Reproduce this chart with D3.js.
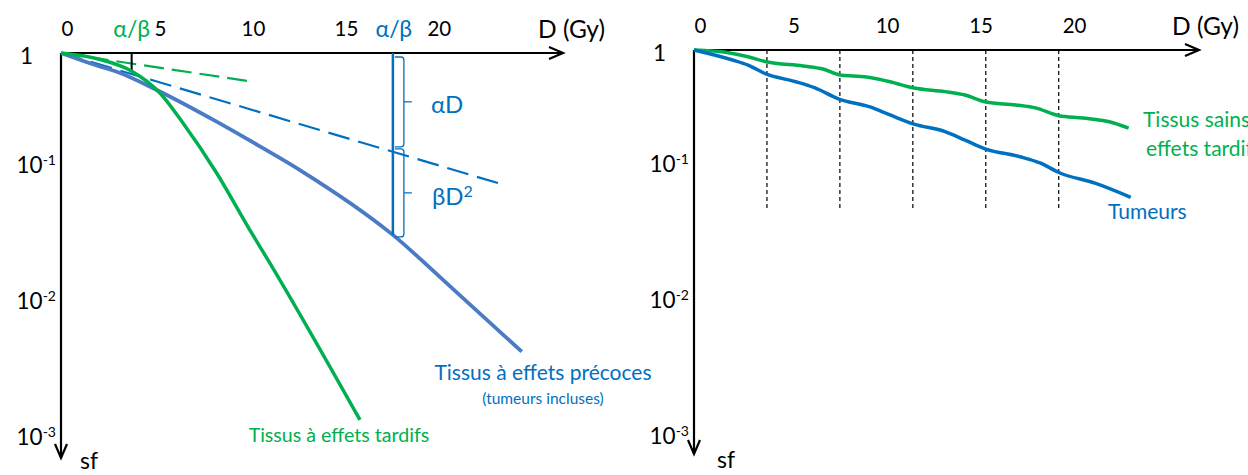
<!DOCTYPE html>
<html><head><meta charset="utf-8">
<script src="https://cdn.jsdelivr.net/npm/d3@7/dist/d3.min.js"></script>
<style>
html,body{margin:0;padding:0;background:#fff;overflow:hidden;}
svg{display:block;font-family:Lato,"Open Sans",sans-serif;}
</style></head><body>
<svg id="c" width="1248" height="475"></svg>
<script>
// ---------- data ----------
const doseTicks = [0, 5, 10, 15, 20];
const sfTicks = [1, 0.1, 0.01, 0.001];
const sfExponents = ["", "-1", "-2", "-3"];

// left panel: LQ curves
const earlyDose = [0, 2, 3.0, 5.15, 8.37, 10.1, 12.85, 17.85, 20.9, 24.78];
const earlySF   = [1, 0.762, 0.676, 0.461, 0.2375, 0.162, 0.0888, 0.0296, 0.0125, 0.0041];
const lateDose  = [0, 2, 3.76, 5.32, 6.56, 8.37, 10.16, 11.13, 16.08];
const lateSF    = [1, 0.882, 0.69, 0.433, 0.231, 0.0844, 0.0321, 0.0194, 0.00129];
const earlyAlphaDose = [0, 23.5];
const earlyAlphaSF   = [1, 0.0712];
const lateAlphaDose  = [0, 10.33];
const lateAlphaSF    = [1, 0.548];
const alphaBetaLate  = 3.8;
const alphaBetaEarly = 17.85;
const earlySFatAB    = 0.0296;
const lateSFatAB     = 0.69;

// right panel: fractionated curves
const fractionDose = [3.9, 7.8, 11.7, 15.6, 19.5];
const healthyDose = [0, 1.84, 2.89, 3.85, 5.83, 6.9, 7.75, 9.22, 10.48, 11.76, 13.42, 14.49, 15.6, 17.2, 18.3, 19.5, 20.8, 22.2, 23.24];
const healthySF   = [1, 0.946, 0.871, 0.786, 0.72, 0.676, 0.602, 0.574, 0.521, 0.458, 0.425, 0.396, 0.343, 0.323, 0.303, 0.259, 0.247, 0.229, 0.201];
const tumourDose  = [0, 2.06, 2.89, 3.85, 5.43, 6.47, 7.75, 9.41, 10.48, 11.76, 13.42, 14.49, 15.6, 17.43, 18.5, 19.57, 21.44, 23.35];
const tumourSF    = [1, 0.814, 0.734, 0.611, 0.521, 0.458, 0.365, 0.31, 0.263, 0.218, 0.187, 0.157, 0.1305, 0.1115, 0.0984, 0.083, 0.0699, 0.055];

// ---------- styles ----------
const GREEN = "#00B050", BLUE = "#0070C0", STEEL = "#4A7BC4";
const svg = d3.select("#c");
const zip = (a, b) => a.map((d, i) => [d, b[i]]);

function panel(opt) {
  const x = d3.scaleLinear().domain([0, 27]).range([opt.x0, opt.x1]);
  const y = d3.scaleLog().domain(sfTicks).range(opt.yr);
  const g = svg.append("g");
  // axes arrows
  const ax = g.append("g").attr("stroke", "#000").attr("stroke-width", 2.2).attr("fill", "none");
  ax.append("line").attr("x1", x(0)).attr("x2", x(27)).attr("y1", y(1)).attr("y2", y(1));
  ax.append("path").attr("d", `M${x(27)-14},${y(1)-6}L${x(27)},${y(1)}L${x(27)-14},${y(1)+6}`);
  ax.append("line").attr("x1", x(0)).attr("x2", x(0)).attr("y1", y(1)).attr("y2", opt.yEnd);
  ax.append("path").attr("d", `M${x(0)-6},${opt.yEnd-14}L${x(0)},${opt.yEnd}L${x(0)+6},${opt.yEnd-14}`);

  // x tick labels
  const xa = g.append("g").attr("transform", `translate(0,${y(1)})`)
    .call(d3.axisTop(x).tickValues(doseTicks).tickSize(0).tickFormat(d3.format("d")));
  xa.select(".domain").remove();
  xa.selectAll("text").attr("font-family", "Lato").attr("font-size", 20.5).attr("fill", "#000")
    .attr("dx", 6).attr("y", -24).attr("dy", "0.35em");
  g.append("text").attr("x", opt.dLabelX).attr("y", y(1) - 24).attr("dy", "0.35em")
    .attr("font-size", 24.5).text("D (Gy)");

  // y tick labels
  const ya = g.append("g").attr("transform", `translate(${x(0)},0)`)
    .call(d3.axisLeft(y).tickValues(sfTicks).tickSize(0).tickFormat(() => ""));
  ya.select(".domain").remove();
  ya.selectAll(".tick text").each(function(d, i) {
    const t = d3.select(this).attr("font-family", "Lato").attr("font-size", 22.5).attr("fill", "#000")
      .attr("text-anchor", "end");
    if (i === 0) {
      t.attr("x", -28).attr("dy", "0.45em").text("1");
    } else {
      t.attr("x", -5).attr("dy", "0.4em");
      t.append("tspan").text("10");
      t.append("tspan").attr("font-size", 14).attr("dy", -8).text(sfExponents[i]);
    }
  });
  g.append("text").attr("x", opt.sfX).attr("y", opt.sfY).attr("font-size", 23).text("sf");
  return {g, x, y};
}

// ---------- left panel ----------
const L = panel({x0: 61, x1: 563, yr: [53, 163, 299, 435], yEnd: 458, dLabelX: 538, sfX: 80, sfY: 469});
const lineL = d3.line().x(d => L.x(d[0])).y(d => L.y(d[1]));
const curveL = d3.line().x(d => L.x(d[0])).y(d => L.y(d[1])).curve(d3.curveMonotoneX);

// dashed alpha lines
L.g.append("path").datum(zip(lateAlphaDose, lateAlphaSF)).attr("d", lineL)
  .attr("fill", "none").attr("stroke", GREEN).attr("stroke-width", 2.2).attr("stroke-dasharray", "20,8");
L.g.append("path").datum(zip(earlyAlphaDose, earlyAlphaSF)).attr("d", lineL)
  .attr("fill", "none").attr("stroke", BLUE).attr("stroke-width", 2.2).attr("stroke-dasharray", "22,9");

// alpha/beta late marker
L.g.append("line").attr("x1", L.x(alphaBetaLate)).attr("x2", L.x(alphaBetaLate))
  .attr("y1", L.y(1)).attr("y2", L.y(lateSFatAB)).attr("stroke", "#000").attr("stroke-width", 2);

// curves
L.g.append("path").datum(zip(earlyDose, earlySF)).attr("d", curveL)
  .attr("fill", "none").attr("stroke", STEEL).attr("stroke-width", 3.8);
L.g.append("path").datum(zip(lateDose, lateSF)).attr("d", curveL)
  .attr("fill", "none").attr("stroke", GREEN).attr("stroke-width", 3.5);

// alpha/beta early marker + brackets
const xab = L.x(alphaBetaEarly);
const yTop = L.y(1), yCurve = L.y(earlySFatAB);
const xd0 = L.x(earlyAlphaDose[0]), xd1 = L.x(earlyAlphaDose[1]);
const yd0 = L.y(earlyAlphaSF[0]), yd1 = L.y(earlyAlphaSF[1]);
const yDash = yd0 + (yd1 - yd0) * (xab - xd0) / (xd1 - xd0);
L.g.append("line").attr("x1", xab).attr("x2", xab).attr("y1", yTop).attr("y2", yCurve)
  .attr("stroke", BLUE).attr("stroke-width", 2.5);
function bracket(x, y0, y1) {
  const w = 9, n = 8, r = 3, ym = (y0 + y1) / 2;
  return `M${x},${y0}L${x+w-r},${y0}Q${x+w},${y0} ${x+w},${y0+r}L${x+w},${y1-r}Q${x+w},${y1} ${x+w-r},${y1}L${x},${y1}M${x+w},${ym}L${x+w+n},${ym}`;
}
L.g.append("path").attr("d", bracket(xab + 2, yTop + 4, yDash - 5))
  .attr("fill", "none").attr("stroke", BLUE).attr("stroke-width", 1.3);
L.g.append("path").attr("d", bracket(xab + 2, yDash - 3, yCurve + 2))
  .attr("fill", "none").attr("stroke", BLUE).attr("stroke-width", 1.3);
L.g.append("text").attr("x", xab + 38).attr("y", (yTop + yDash) / 2 + 2).attr("dy", "0.35em")
  .attr("font-size", 24).attr("fill", BLUE).text("αD");
const bt = L.g.append("text").attr("x", xab + 39).attr("y", (yDash + yCurve) / 2 + 3).attr("dy", "0.35em")
  .attr("font-size", 24).attr("fill", BLUE);
bt.append("tspan").text("βD");
bt.append("tspan").attr("font-size", 16).attr("dy", -8).text("2");

// alpha/beta labels
L.g.append("text").attr("x", L.x(alphaBetaLate)).attr("y", L.y(1) - 24).attr("dy", "0.35em")
  .attr("text-anchor", "middle").attr("font-size", 23).attr("fill", GREEN).text("α/β");
L.g.append("text").attr("x", xab + 1).attr("y", L.y(1) - 24).attr("dy", "0.35em")
  .attr("text-anchor", "middle").attr("font-size", 23).attr("fill", BLUE).text("α/β");

// curve labels
L.g.append("text").attr("x", 543).attr("y", 373).attr("dy", "0.35em").attr("text-anchor", "middle")
  .attr("font-size", 21).attr("fill", BLUE).text("Tissus à effets précoces");
L.g.append("text").attr("x", 543).attr("y", 399).attr("dy", "0.35em").attr("text-anchor", "middle")
  .attr("font-size", 15.5).attr("fill", BLUE).text("(tumeurs incluses)");
L.g.append("text").attr("x", 339).attr("y", 435).attr("dy", "0.35em").attr("text-anchor", "middle")
  .attr("font-size", 19.6).attr("fill", GREEN).text("Tissus à effets tardifs");

// ---------- right panel ----------
const R = panel({x0: 694, x1: 1199, yr: [50, 162, 298, 434], yEnd: 454, dLabelX: 1172, sfX: 717, sfY: 468});
const curveR = d3.line().x(d => R.x(d[0])).y(d => R.y(d[1])).curve(d3.curveMonotoneX);

R.g.append("g").selectAll("line").data(fractionDose).join("line")
  .attr("x1", d => R.x(d)).attr("x2", d => R.x(d))
  .attr("y1", R.y(1)).attr("y2", R.y(1) + 161)
  .attr("stroke", "#000").attr("stroke-width", 1.2).attr("stroke-dasharray", "4,3");

R.g.append("path").datum(zip(healthyDose, healthySF)).attr("d", curveR)
  .attr("fill", "none").attr("stroke", GREEN).attr("stroke-width", 3.5);
R.g.append("path").datum(zip(tumourDose, tumourSF)).attr("d", curveR)
  .attr("fill", "none").attr("stroke", BLUE).attr("stroke-width", 3.5);

R.g.append("text").attr("x", 1143).attr("y", 120).attr("dy", "0.35em")
  .attr("font-size", 21).attr("fill", GREEN).text("Tissus sains à");
R.g.append("text").attr("x", 1146).attr("y", 149).attr("dy", "0.35em")
  .attr("font-size", 21).attr("fill", GREEN).text("effets tardifs");
R.g.append("text").attr("x", 1108).attr("y", 212).attr("dy", "0.35em")
  .attr("font-size", 21).attr("fill", BLUE).text("Tumeurs");
</script>
</body></html>
